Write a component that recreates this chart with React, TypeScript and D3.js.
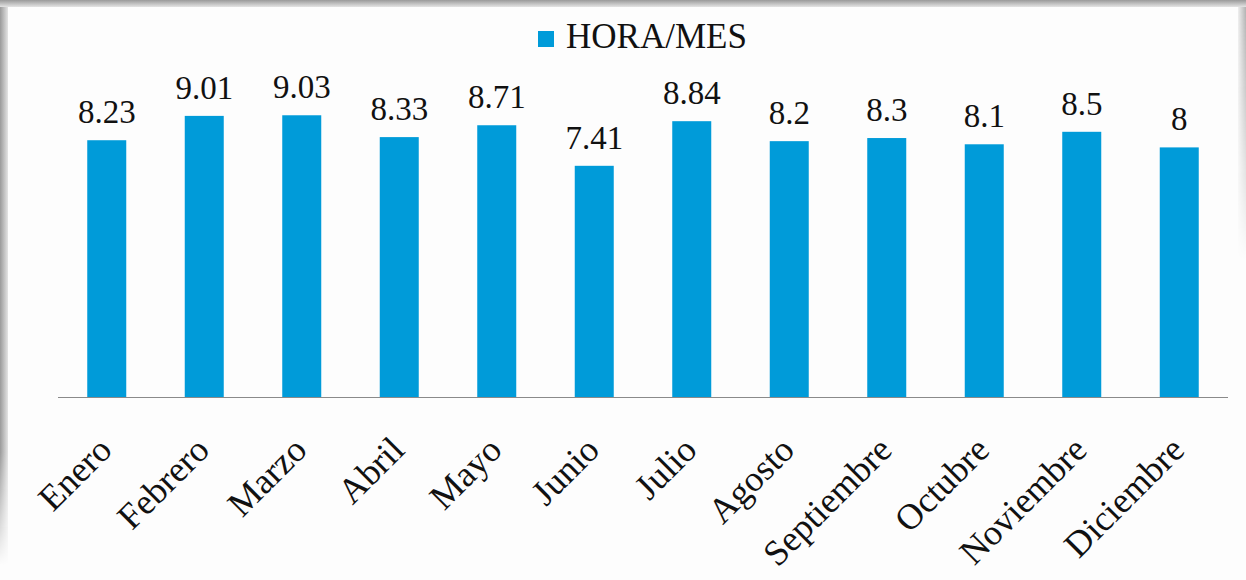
import React from 'react';
import * as d3 from 'd3';

// months and hours per month
const months = ['Enero', 'Febrero', 'Marzo', 'Abril', 'Mayo', 'Junio', 'Julio', 'Agosto', 'Septiembre', 'Octubre', 'Noviembre', 'Diciembre'];
const hours = [8.23, 9.01, 9.03, 8.33, 8.71, 7.41, 8.84, 8.2, 8.3, 8.1, 8.5, 8];
const seriesName = 'HORA/MES';

const width = 1246;
const height = 580;
const barColor = '#009bd9';
const font = '"Liberation Serif", "Times New Roman", serif';

export default function App() {
    const x = d3.scaleBand<string>()
        .domain(months)
        .range([58, 1228])
        .paddingInner(0.6)
        .paddingOuter(0.3);
    const y = d3.scaleLinear().domain([0, 10]).range([397, 85]);

    return (
        <svg width={width} height={height} style={{ position: 'absolute', left: 0, top: 0, display: 'block' }}>
            <defs>
                <linearGradient id="shTop" x1="0" y1="0" x2="0" y2="1">
                    <stop offset="0" stopColor="#9a9a9a" />
                    <stop offset="1" stopColor="#e4e4e4" />
                </linearGradient>
                <linearGradient id="shLeft" x1="0" y1="0" x2="1" y2="0">
                    <stop offset="0" stopColor="#9a9a9a" />
                    <stop offset="1" stopColor="#e4e4e4" />
                </linearGradient>
                <linearGradient id="shRight" x1="1" y1="0" x2="0" y2="0">
                    <stop offset="0" stopColor="#b0b0b0" />
                    <stop offset="1" stopColor="#eeeeee" />
                </linearGradient>
                <linearGradient id="fadeV" x1="0" y1="0" x2="0" y2="1">
                    <stop offset="0" stopColor="white" />
                    <stop offset="0.8" stopColor="white" />
                    <stop offset="1" stopColor="black" />
                </linearGradient>
                <linearGradient id="fadeR" x1="0" y1="0" x2="0" y2="1">
                    <stop offset="0" stopColor="white" />
                    <stop offset="1" stopColor="black" />
                </linearGradient>
                <mask id="mLeft"><rect x={0} y={0} width={8} height={565} fill="url(#fadeV)" /></mask>
                <mask id="mRight"><rect x={1238} y={0} width={8} height={260} fill="url(#fadeR)" /></mask>
            </defs>

            {/* card with its soft shadow */}
            <rect x={0} y={0} width={width} height={height} fill="#fdfdfd" />
            <rect x={0} y={0} width={8} height={565} fill="url(#shLeft)" mask="url(#mLeft)" />
            <rect x={1238} y={0} width={8} height={260} fill="url(#shRight)" mask="url(#mRight)" />
            <rect x={0} y={0} width={width} height={7} fill="url(#shTop)" />

            {/* legend */}
            <rect x={538} y={31} width={16} height={16} fill={barColor} />
            <text x={566} y={48} fontFamily={font} fontSize={35} fill="#111">{seriesName}</text>

            {/* bars */}
            {months.map((m, i) => (
                <rect key={m} x={x(m)} y={y(hours[i])} width={x.bandwidth()} height={y(0) - y(hours[i])} fill={barColor} />
            ))}

            {/* value labels */}
            {months.map((m, i) => (
                <text key={m} x={(x(m) ?? 0) + x.bandwidth() / 2} y={y(hours[i]) - 17}
                      textAnchor="middle" fontFamily={font} fontSize={33} fill="#111">
                    {String(hours[i])}
                </text>
            ))}

            {/* axis line */}
            <line x1={58} x2={1228} y1={y(0) + 0.5} y2={y(0) + 0.5} stroke="#8a8a8a" strokeWidth={1} />

            {/* category labels */}
            {months.map(m => {
                const cx = (x(m) ?? 0) + x.bandwidth() / 2;
                return (
                    <text key={m} transform={`translate(${cx + 7},${452}) rotate(-45)`}
                          textAnchor="end" fontFamily={font} fontSize={36} fill="#111">
                        {m}
                    </text>
                );
            })}
        </svg>
    );
}
